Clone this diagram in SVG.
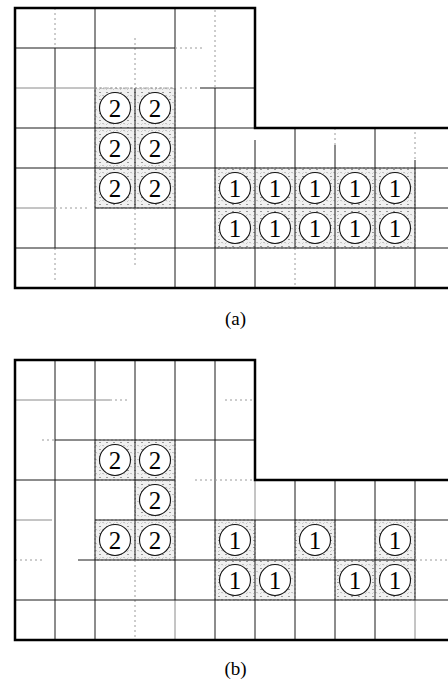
<svg xmlns="http://www.w3.org/2000/svg" width="448" height="681" viewBox="0 0 448 681">
<defs>
<pattern id="speck" width="7" height="7" patternUnits="userSpaceOnUse">
<rect width="7" height="7" fill="#f1f1f1"/>
<path d="M1 1.5h2M4.5 4l1.2 1.2M1.5 5.5l0.8-0.8" stroke="#8e8e8e" stroke-width="0.9" fill="none"/>
</pattern>
<style>
.s{stroke:#1a1a1a;stroke-width:1;fill:none}
.g{stroke:#8a8a8a;stroke-width:1;fill:none}
.d{stroke:#9a9a9a;stroke-width:1;fill:none;stroke-dasharray:2 3}
.b{stroke:#000;stroke-width:2.5;fill:none}
.sh{fill:url(#speck);stroke:#999;stroke-width:0.8;stroke-dasharray:2 2}
.node circle{fill:#fff;stroke:#111;stroke-width:1.1}
.node text{font-family:"Liberation Serif","Times New Roman",serif;font-size:25px;text-anchor:middle;fill:#000}
.lbl{font-family:"Liberation Serif","Times New Roman",serif;font-size:19px;text-anchor:middle;fill:#000}
</style>
</defs>
<rect width="448" height="681" fill="#fff"/>

<!-- Panel (a) -->
<g id="panel-a">
<g id="a-shading">
<rect class="sh" x="95" y="88" width="80" height="120"/>
<rect class="sh" x="215" y="168" width="200" height="80"/>
</g>
<g id="a-connectors">
<path class="d" d="M55 8V48M55 248V280"/>
<path class="s" d="M55 48V248"/>
<path class="s" d="M95 8V288"/>
<path class="d" d="M135 38V88M135 208V268"/>
<path class="s" d="M135 88V208"/>
<path class="s" d="M175 8V288"/>
<path class="d" d="M215 10V88"/>
<path class="s" d="M215 88V288"/>
<path class="s" d="M255 140V288"/>
<path class="s" d="M295 128V248"/>
<path class="d" d="M295 248V285"/>
<path class="d" d="M335 128V145"/>
<path class="s" d="M335 145V288"/>
<path class="s" d="M375 128V288"/>
<path class="d" d="M415 132V160"/>
<path class="s" d="M415 160V288"/>
<path class="s" d="M15 48H175"/>
<path class="d" d="M175 48H205"/>
<path class="g" d="M15 88H95"/>
<path class="d" d="M95 88H175M180 88H200"/>
<path class="s" d="M200 88H255"/>
<path class="s" d="M15 128H255"/>
<path class="s" d="M15 168H448"/>
<path class="g" d="M15 208H55"/>
<path class="d" d="M55 208H90"/>
<path class="s" d="M95 208H448"/>
<path class="s" d="M15 248H448"/>
<path class="b" d="M448 128H255V8H15V288H448"/>
</g>
<g id="a-n2-1" class="node" transform="translate(95,88)"><circle cx="20" cy="20" r="15.5"/><text x="20" y="28.5">2</text></g>
<g id="a-n2-2" class="node" transform="translate(135,88)"><circle cx="20" cy="20" r="15.5"/><text x="20" y="28.5">2</text></g>
<g id="a-n2-3" class="node" transform="translate(95,128)"><circle cx="20" cy="20" r="15.5"/><text x="20" y="28.5">2</text></g>
<g id="a-n2-4" class="node" transform="translate(135,128)"><circle cx="20" cy="20" r="15.5"/><text x="20" y="28.5">2</text></g>
<g id="a-n2-5" class="node" transform="translate(95,168)"><circle cx="20" cy="20" r="15.5"/><text x="20" y="28.5">2</text></g>
<g id="a-n2-6" class="node" transform="translate(135,168)"><circle cx="20" cy="20" r="15.5"/><text x="20" y="28.5">2</text></g>
<g id="a-n1-1" class="node" transform="translate(215,168)"><circle cx="20" cy="20" r="15.5"/><text x="20" y="28.5">1</text></g>
<g id="a-n1-2" class="node" transform="translate(255,168)"><circle cx="20" cy="20" r="15.5"/><text x="20" y="28.5">1</text></g>
<g id="a-n1-3" class="node" transform="translate(295,168)"><circle cx="20" cy="20" r="15.5"/><text x="20" y="28.5">1</text></g>
<g id="a-n1-4" class="node" transform="translate(335,168)"><circle cx="20" cy="20" r="15.5"/><text x="20" y="28.5">1</text></g>
<g id="a-n1-5" class="node" transform="translate(375,168)"><circle cx="20" cy="20" r="15.5"/><text x="20" y="28.5">1</text></g>
<g id="a-n1-6" class="node" transform="translate(215,208)"><circle cx="20" cy="20" r="15.5"/><text x="20" y="28.5">1</text></g>
<g id="a-n1-7" class="node" transform="translate(255,208)"><circle cx="20" cy="20" r="15.5"/><text x="20" y="28.5">1</text></g>
<g id="a-n1-8" class="node" transform="translate(295,208)"><circle cx="20" cy="20" r="15.5"/><text x="20" y="28.5">1</text></g>
<g id="a-n1-9" class="node" transform="translate(335,208)"><circle cx="20" cy="20" r="15.5"/><text x="20" y="28.5">1</text></g>
<g id="a-n1-10" class="node" transform="translate(375,208)"><circle cx="20" cy="20" r="15.5"/><text x="20" y="28.5">1</text></g>
<text id="label-a" class="lbl" x="235.5" y="325">(a)</text>
</g>

<!-- Panel (b) -->
<g id="panel-b">
<g id="b-shading">
<rect class="sh" x="95" y="440" width="80" height="40"/>
<rect class="sh" x="135" y="480" width="40" height="40"/>
<rect class="sh" x="95" y="520" width="80" height="40"/>
<rect class="sh" x="215" y="520" width="40" height="40"/>
<rect class="sh" x="295" y="520" width="40" height="40"/>
<rect class="sh" x="375" y="520" width="40" height="40"/>
<rect class="sh" x="215" y="560" width="80" height="40"/>
<rect class="sh" x="335" y="560" width="80" height="40"/>
</g>
<g id="b-connectors">
<path class="s" d="M55 360V640"/>
<path class="s" d="M95 360V640"/>
<path class="s" d="M135 360V560"/>
<path class="d" d="M135 560V640"/>
<path class="s" d="M175 360V600"/>
<path class="g" d="M175 600V640"/>
<path class="s" d="M215 360V640"/>
<path class="g" d="M255 480V520"/>
<path class="s" d="M255 520V640"/>
<path class="s" d="M295 480V640"/>
<path class="s" d="M335 480V640"/>
<path class="s" d="M375 480V640"/>
<path class="s" d="M415 480V600"/>
<path class="g" d="M415 600V640"/>
<path class="g" d="M15 400H110"/>
<path class="d" d="M110 400H127M225 400H253"/>
<path class="d" d="M42 440H55"/>
<path class="s" d="M55 440H255"/>
<path class="s" d="M15 480H175"/>
<path class="d" d="M195 480H253"/>
<path class="g" d="M15 520H52"/>
<path class="s" d="M95 520H448"/>
<path class="d" d="M15 560H42"/>
<path class="s" d="M78 560H415"/>
<path class="d" d="M415 560H448"/>
<path class="s" d="M15 600H448"/>
<path class="b" d="M448 480H255V360H15V640H448"/>
</g>
<g id="b-n2-1" class="node" transform="translate(95,440)"><circle cx="20" cy="20" r="15.5"/><text x="20" y="28.5">2</text></g>
<g id="b-n2-2" class="node" transform="translate(135,440)"><circle cx="20" cy="20" r="15.5"/><text x="20" y="28.5">2</text></g>
<g id="b-n2-3" class="node" transform="translate(135,480)"><circle cx="20" cy="20" r="15.5"/><text x="20" y="28.5">2</text></g>
<g id="b-n2-4" class="node" transform="translate(95,520)"><circle cx="20" cy="20" r="15.5"/><text x="20" y="28.5">2</text></g>
<g id="b-n2-5" class="node" transform="translate(135,520)"><circle cx="20" cy="20" r="15.5"/><text x="20" y="28.5">2</text></g>
<g id="b-n1-1" class="node" transform="translate(215,520)"><circle cx="20" cy="20" r="15.5"/><text x="20" y="28.5">1</text></g>
<g id="b-n1-2" class="node" transform="translate(295,520)"><circle cx="20" cy="20" r="15.5"/><text x="20" y="28.5">1</text></g>
<g id="b-n1-3" class="node" transform="translate(375,520)"><circle cx="20" cy="20" r="15.5"/><text x="20" y="28.5">1</text></g>
<g id="b-n1-4" class="node" transform="translate(215,560)"><circle cx="20" cy="20" r="15.5"/><text x="20" y="28.5">1</text></g>
<g id="b-n1-5" class="node" transform="translate(255,560)"><circle cx="20" cy="20" r="15.5"/><text x="20" y="28.5">1</text></g>
<g id="b-n1-6" class="node" transform="translate(335,560)"><circle cx="20" cy="20" r="15.5"/><text x="20" y="28.5">1</text></g>
<g id="b-n1-7" class="node" transform="translate(375,560)"><circle cx="20" cy="20" r="15.5"/><text x="20" y="28.5">1</text></g>
<text id="label-b" class="lbl" x="235.5" y="675">(b)</text>
</g>
</svg>
